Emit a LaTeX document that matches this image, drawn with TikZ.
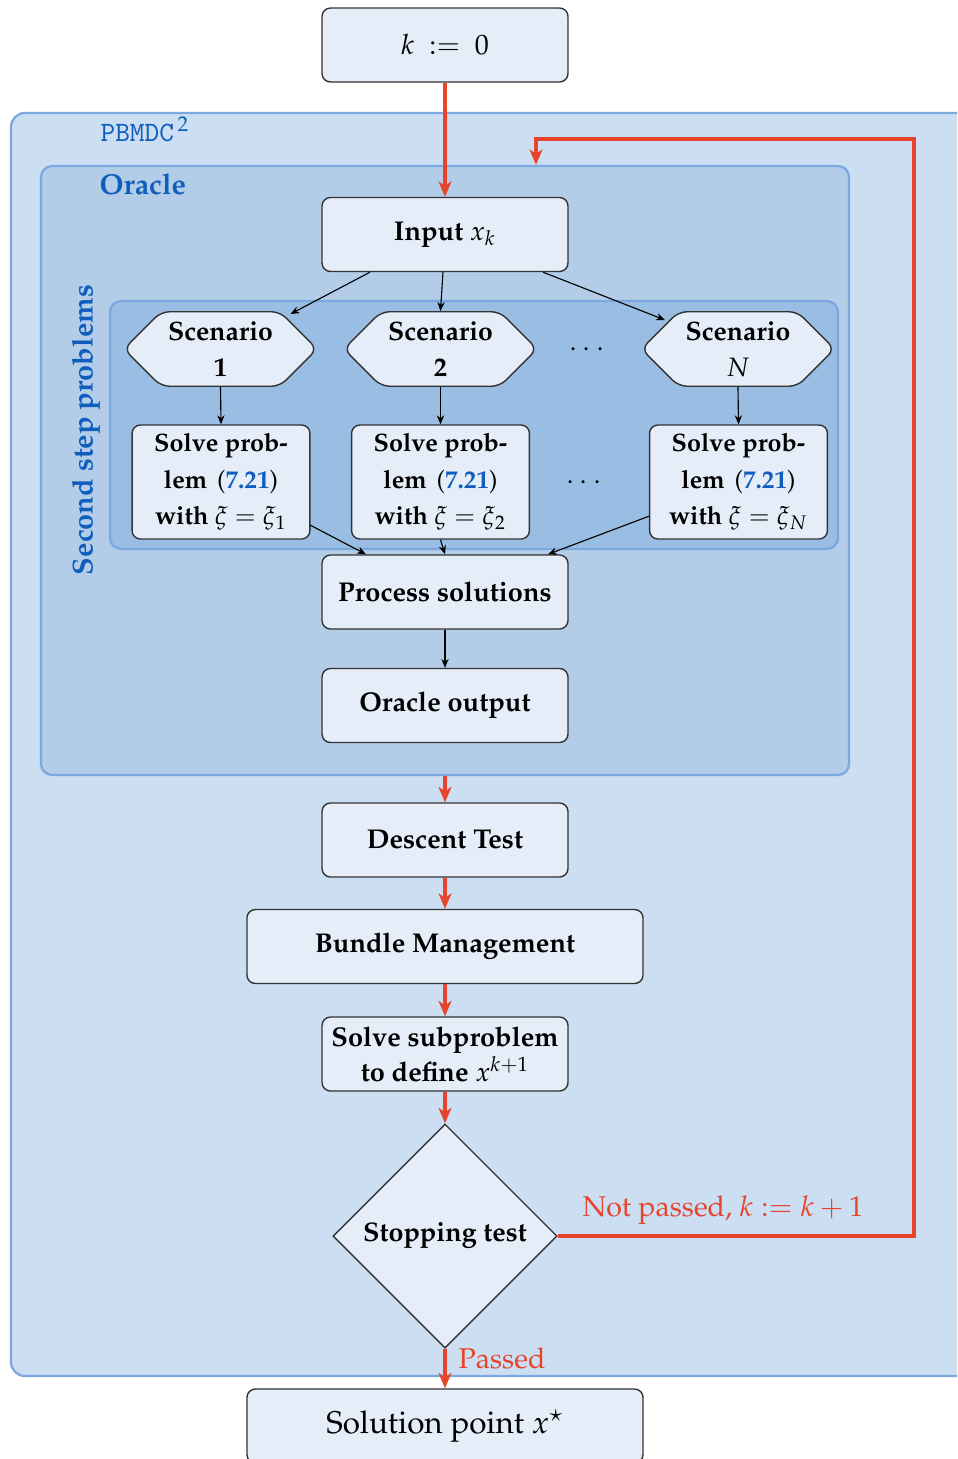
\documentclass[tikz,border=0pt]{standalone}
\usepackage[T1]{fontenc}
\usepackage{mathpazo}
\usetikzlibrary{shapes.geometric,shapes.symbols,arrows.meta,calc}
\definecolor{outerfill}{HTML}{CBDEF2}
\definecolor{oraclefill}{HTML}{B3CDE9}
\definecolor{secondfill}{HTML}{9ABDE3}
\definecolor{contline}{HTML}{7BA8DE}
\definecolor{nodefill}{HTML}{E5EDF8}
\definecolor{nodeline}{HTML}{333333}
\definecolor{redline}{HTML}{E8432B}
\definecolor{textblue}{HTML}{0F5EBE}
\newcommand\eqlink[1]{{\normalfont(}\textcolor{textblue}{#1}{\normalfont)}}
\newcommand\mytt[1]{{\fontencoding{OT1}\fontfamily{cmtt}\selectfont #1}}
\begin{document}
\begin{tikzpicture}[x=0.357pt,y=-0.357pt,
  container/.style={draw=contline, line width=0.8pt, rounded corners=4pt, inner sep=0pt},
  box/.style={draw=nodeline, fill=nodefill, line width=0.5pt, rounded corners=3pt,
    minimum width=87.8pt, minimum height=26.4pt, align=center,
    font={\fontsize{9.7}{12.5}\selectfont\bfseries}, inner sep=1pt},
  widebox/.style={box, minimum width=141.4pt},
  solvebox/.style={box, minimum width=63.5pt, minimum height=40.7pt,
    font={\fontsize{9}{13}\selectfont\bfseries}},
  scen/.style={draw=nodeline, fill=nodefill, line width=0.5pt, rounded corners=3pt,
    shape=signal, signal to=west and east, signal pointer angle=90,
    minimum width=69pt, minimum height=26.6pt, align=center,
    font={\fontsize{9.5}{12.8}\selectfont\bfseries}, inner sep=0pt},
  decision/.style={draw=nodeline, fill=nodefill, line width=0.5pt, shape=diamond, aspect=1,
    minimum size=80pt, inner sep=0pt, align=center, font={\fontsize{9.6}{12}\selectfont\bfseries}},
  blk/.style={-{Stealth[length=3.2pt,width=2.6pt]}, line width=0.4pt, black},
  red/.style={-{Stealth[length=5.5pt,width=4.6pt,inset=1.6pt]}, line width=1.4pt, redline},
  redlabel/.style={text=redline, font={\fontsize{10.2}{12}\selectfont}},
  bluelabel/.style={text=textblue, font={\fontsize{10.3}{12}\selectfont\bfseries}}
]
\path[use as bounding box] (0,0) rectangle (957,1459);
\clip (0,0) rectangle (957,1459);

% containers
\node[container, fill=outerfill, minimum width=357pt, minimum height=450.9pt, rounded corners=5pt] (pbmdc) at (511,744.5) {};
\node[container, fill=oraclefill, minimum width=288.5pt, minimum height=217.4pt] (oracle) at (445,470.5) {};
\node[container, fill=secondfill, minimum width=259.9pt, minimum height=88.5pt] (second) at (474,425) {};

\node[anchor=west, text=textblue, inner sep=0pt] (pbmdclabel) at (100,129) {\mytt{PBMDC}$^{\,2}$};
\node[bluelabel, anchor=west, inner sep=0pt] (oraclelabel) at (99,184) {Oracle};
\node[bluelabel, rotate=90, inner sep=0pt] (secondlabel) at (86,430) {Second step problems};

% nodes
\node[box, font={\fontsize{10}{12}\selectfont}] (init) at (445,45) {$k\ :=\ 0$};
\node[box] (input) at (445,234.5) {Input $x_k$};
\node[scen] (sc1) at (220.5,349) {Scenario\\1};
\node[scen] (sc2) at (440.5,349) {Scenario\\2};
\node[scen] (scN) at (738,349) {Scenario\\$N$};
\node (dots1) at (587,350) {$\cdots$};
\node[solvebox] (so1) at (221,482) {Solve prob-\\lem\hspace{3.5pt}\eqlink{7.21}\\with $\xi=\xi_1$};
\node[solvebox] (so2) at (440.5,482) {Solve prob-\\lem\hspace{3.5pt}\eqlink{7.21}\\with $\xi=\xi_2$};
\node[solvebox] (soN) at (738.5,482) {Solve prob-\\lem\hspace{3.5pt}\eqlink{7.21}\\with $\xi=\xi_N$};
\node (dots2) at (584,483) {$\cdots$};
\node[box] (proc) at (445,592) {Process solutions};
\node[box] (out) at (445,705.5) {Oracle output};
\node[box] (descent) at (445,840) {Descent Test};
\node[widebox] (bundle) at (445,946.5) {Bundle Management};
\node[box] (sub) at (445,1054) {Solve subproblem\\to define $x^{k+1}$};
\node[decision] (stop) at (445,1236) {Stopping test};
\node[widebox, font={\fontsize{11.2}{13}\selectfont}] (sol) at (445,1426) {Solution point $x^{\star}$};

% black arrows
\draw[blk] ($(input.south)+(-75,0)$) -- ($(sc1)+(70,-35)$);
\draw[blk] ($(input.south)+(-2,0)$) -- (sc2.north);
\draw[blk] ($(input.south)+(98,0)$) -- ($(scN)+(-73,-29)$);
\draw[blk] (sc1.south) -- (so1.north);
\draw[blk] (sc2.south) -- (so2.north);
\draw[blk] (scN.south) -- (soN.north);
\draw[blk] ($(so1)+(89,43)$) -- ($(proc.north)+(-79,0)$);
\draw[blk] (so2.south) -- (proc.north);
\draw[blk] ($(soN)+(-89,34)$) -- ($(proc.north)+(103,0)$);
\draw[blk] (proc.south) -- (out.north);

% red arrows
\draw[red] (init.south) -- (input.north);
\draw[red] (oracle.south) -- (descent.north);
\draw[red] (descent.south) -- (bundle.north);
\draw[red] (bundle.south) -- (sub.north);
\draw[red] (sub.south) -- (stop.north);
\draw[red] (stop.south) -- (sol.north);
\coordinate (r1) at (914,1236);
\coordinate (r3) at (536,139);
\draw[red] (stop.east) -- (r1) |- (r3) -- (oracle.north -| r3);
\node[redlabel, anchor=base west, inner sep=0pt] (notpassed) at (582,1216) {Not passed, $k := k+1$};
\node[redlabel, anchor=west, inner sep=0pt] (passed) at (458,1358) {Passed};
\end{tikzpicture}
\end{document}
